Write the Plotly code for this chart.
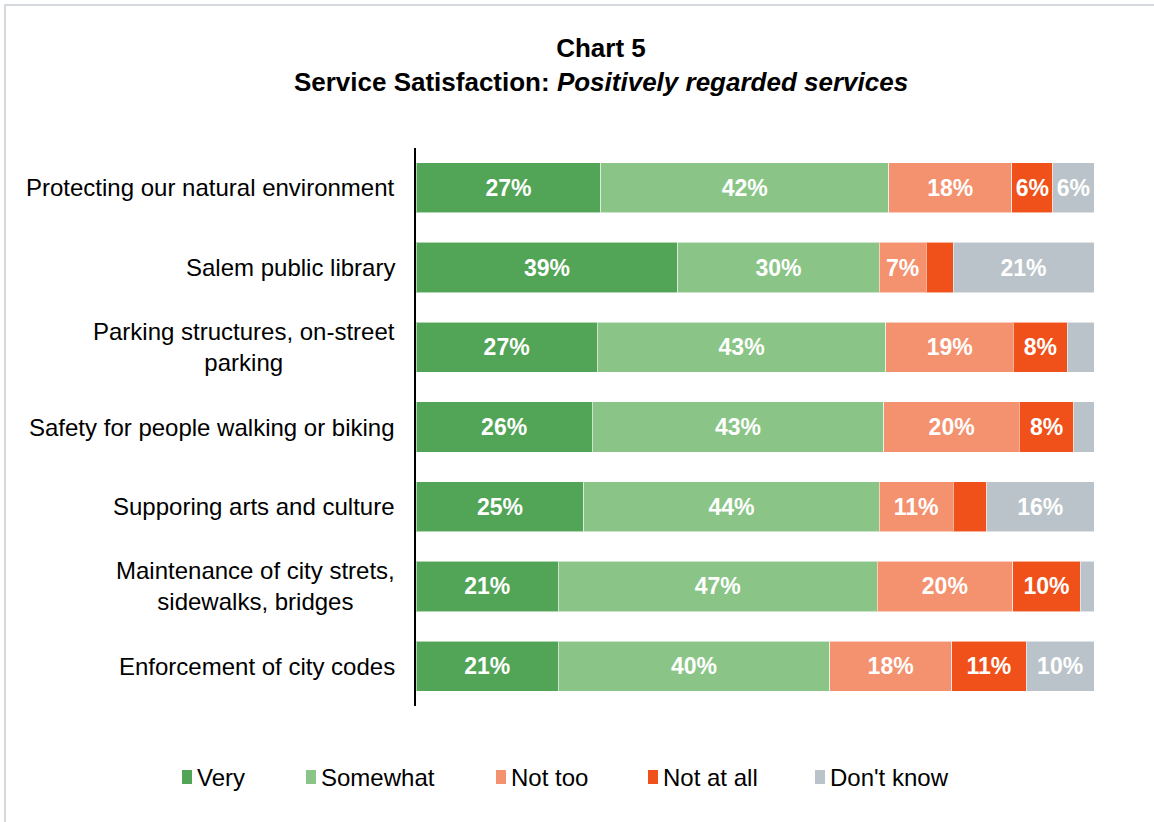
import plotly.graph_objects as go

# Survey services, top to bottom
services = [
    "Protecting our natural environment",
    "Salem public library",
    "Parking structures, on-street<br>parking",
    "Safety for people walking or biking",
    "Supporing arts and culture",
    "Maintenance of city strets,<br>sidewalks, bridges",
    "Enforcement of city codes",
]

# Response shares (%) per service
very = [27, 39, 27, 26, 25, 21, 21]
somewhat = [42, 30, 43, 43, 44, 47, 40]
not_too = [18, 7, 19, 20, 11, 20, 18]
not_at_all = [6, 4, 8, 8, 5, 10, 11]
dont_know = [6, 21, 4, 3, 16, 2, 10]

series = [
    ("Very", very, "#52A456"),
    ("Somewhat", somewhat, "#8AC587"),
    ("Not too", not_too, "#F4916E"),
    ("Not at all", not_at_all, "#F05019"),
    ("Don't know", dont_know, "#BAC3C9"),
]

FONT = "Liberation Sans, Arial, sans-serif"
W, H = 1154, 822
L, R, T, B = 416, 60, 148, 116
PW, PH = W - L - R, H - T - B

# Legend key left edges (px) and baseline row
LEGEND_X = [182, 306, 496, 648, 815]
LEGEND_Y = 777


def px_x(p):
    return (p - L) / PW


def px_y(p):
    return 1 - (p - T) / PH


fig = go.Figure()
shapes = []
for (name, vals, color), lx in zip(series, LEGEND_X):
    labels = [f"{v}%" if v >= 6 else "" for v in vals]
    fig.add_trace(go.Bar(
        y=services, x=vals, name=name, orientation="h", showlegend=False,
        marker=dict(color=color, line=dict(color="rgba(255,255,255,0.55)", width=1)),
        text=labels, textposition="inside", insidetextanchor="middle",
        textfont=dict(family=FONT, size=23, color="white", weight="bold"),
        constraintext="none", hoverinfo="skip",
    ))
    # legend key + label
    shapes.append(dict(
        type="rect", xref="paper", yref="paper",
        x0=px_x(lx), x1=px_x(lx + 10), y0=px_y(LEGEND_Y + 7), y1=px_y(LEGEND_Y - 7),
        line=dict(width=0), fillcolor=color,
    ))
    fig.add_annotation(
        x=px_x(lx + 13), xref="paper", y=px_y(LEGEND_Y), yref="paper",
        text=name, showarrow=False, xanchor="left", yanchor="middle",
        font=dict(family=FONT, size=24, color="black"),
    )

# Category labels: right-aligned block, lines centred within it
for s in services:
    fig.add_annotation(
        x=px_x(397), xref="paper", y=s, yref="y",
        text=s, showarrow=False, xanchor="right", yanchor="middle", align="center",
        font=dict(family=FONT, size=24, color="black"),
    )

# Thin chart-area frame (top and left edges visible)
shapes.append(dict(
    type="rect", xref="paper", yref="paper",
    x0=px_x(5), x1=px_x(W + 10), y0=px_y(H + 10), y1=px_y(5),
    line=dict(color="#C9CED3", width=1.5), fillcolor="rgba(0,0,0,0)", layer="below",
))

fig.update_layout(
    width=W, height=H,
    margin=dict(l=L, r=R, t=T, b=B),
    paper_bgcolor="white", plot_bgcolor="white",
    barmode="stack", barnorm="percent", bargap=0.37,
    font=dict(family=FONT, color="black"),
    showlegend=False,
    title=dict(
        text="<b>Chart 5</b><br><b>Service Satisfaction: <i>Positively regarded services</i></b>",
        x=601 / W, xref="container", xanchor="center",
        y=1 - 57 / H, yref="container", yanchor="middle",
        font=dict(family=FONT, size=26, color="black"),
    ),
    xaxis=dict(range=[0, 100], visible=False, fixedrange=True),
    yaxis=dict(
        autorange="reversed", showline=True, linecolor="black", linewidth=2,
        ticks="", showticklabels=False, showgrid=False,
    ),
    shapes=shapes,
)

fig.write_html("out.html")
